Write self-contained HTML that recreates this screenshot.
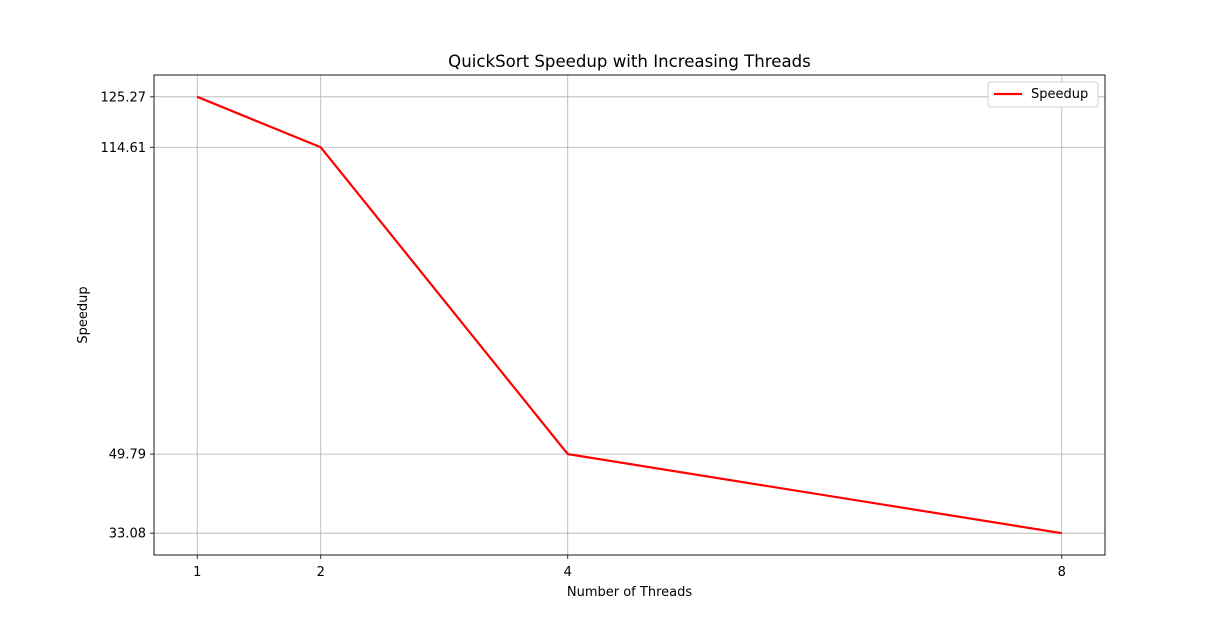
<!DOCTYPE html>
<html><head><meta charset="utf-8"><style>
body{margin:0;background:#fff;font-family:"DejaVu Sans","Liberation Sans",sans-serif}
</style></head><body>
<svg id="chart" width="1228" height="624" xmlns="http://www.w3.org/2000/svg" font-family="DejaVu Sans, Liberation Sans, sans-serif"></svg>
<script>
const threads=[1,2,4,8];
const speedup=[125.27,114.61,49.79,33.08];
const tickLabels=["125.27","114.61","49.79","33.08"];
const L=154,R=1105,T=75,B=555;
const xmin=0.65,xmax=8.35;
const ymn=Math.min(...speedup),ymx=Math.max(...speedup),rg=ymx-ymn;
const ymin=ymn-0.05*rg,ymax=ymx+0.05*rg;
const sx=v=>L+(v-xmin)/(xmax-xmin)*(R-L);
const sy=v=>B-(v-ymin)/(ymax-ymin)*(B-T);
const svg=document.getElementById('chart');
const NS='http://www.w3.org/2000/svg';
function mk(tag,attrs,text){const e=document.createElementNS(NS,tag);for(const k in attrs)e.setAttribute(k,attrs[k]);if(text!=null)e.textContent=text;svg.appendChild(e);return e;}
threads.forEach(t=>{
  const x=sx(t);
  const g=mk('line',{x1:x,x2:x,y1:T,y2:B,stroke:'#b0b0b0','stroke-width':0.8});
  
  
  const tk=mk('line',{x1:x,x2:x,y1:B,y2:B+4,stroke:'#000','stroke-width':0.8});
  
  
  const tl=mk('text',{x:x,y:B+21,'text-anchor':'middle','font-size':13},String(t));
  
  
});
speedup.forEach((v,i)=>{
  const y=sy(v);
  const g=mk('line',{x1:L,x2:R,y1:y,y2:y,stroke:'#b0b0b0','stroke-width':0.8});
  
  
  const tk=mk('line',{x1:L-4,x2:L,y1:y,y2:y,stroke:'#000','stroke-width':0.8});
  
  
  const tl=mk('text',{x:L-8,y:y+4.5,'text-anchor':'end','font-size':13},tickLabels[i]);
  
  
});
const pl=mk('polyline',{points:threads.map((t,i)=>sx(t)+','+sy(speedup[i])).join(' '),fill:'none',stroke:'#ff0000','stroke-width':2.2});


const fr=mk('rect',{x:L,y:T,width:R-L,height:B-T,fill:'none',stroke:'#000','stroke-width':0.9});


const ti=mk('text',{x:(L+R)/2,y:67,'text-anchor':'middle','font-size':16.6},'QuickSort Speedup with Increasing Threads');


const xt=mk('text',{x:(L+R)/2,y:596,'text-anchor':'middle','font-size':13},'Number of Threads');


const yt=mk('text',{x:87,y:(T+B)/2,'text-anchor':'middle','font-size':13,transform:'rotate(-90 87 '+((T+B)/2)+')'},'Speedup');


const lg=mk('rect',{x:988,y:82,width:110,height:25,rx:3,fill:'#fff',stroke:'#d0d0d0','stroke-width':1});


const ll=mk('line',{x1:994,x2:1022,y1:94,y2:94,stroke:'#ff0000','stroke-width':2.2});


const lt=mk('text',{x:1031,y:98,'font-size':13},'Speedup');


</script>
</body></html>
